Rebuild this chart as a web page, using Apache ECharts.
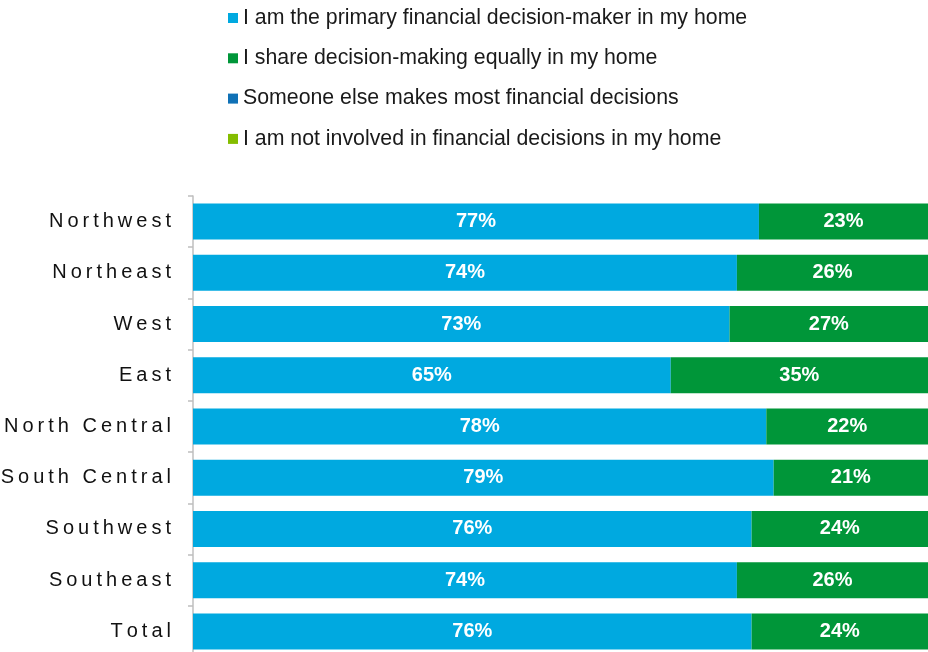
<!DOCTYPE html>
<html>
<head>
<meta charset="utf-8">
<script src="https://cdn.jsdelivr.net/npm/echarts@6/dist/echarts.min.js"></script>
<style>
  html, body { margin: 0; padding: 0; background: #fff; }
  #main { width: 928px; height: 652px; }
</style>
</head>
<body>
<div id="main"></div>
<script>
var regions = ['Northwest', 'Northeast', 'West', 'East', 'North Central', 'South Central', 'Southwest', 'Southeast', 'Total']
var seriesNames = [
  'I am the primary financial decision-maker in my home',
  'I share decision-making equally in my home',
  'Someone else makes most financial decisions',
  'I am not involved in financial decisions in my home'
]
var primary = [77, 74, 73, 65, 78, 79, 76, 74, 76]
var shared = [23, 26, 27, 35, 22, 21, 24, 26, 24]
var someoneElse = [0, 0, 0, 0, 0, 0, 0, 0, 0]
var notInvolved = [0, 0, 0, 0, 0, 0, 0, 0, 0]
var colors = ['#00a9e0', '#009639', '#0f71b6', '#84bd00']

var fontFam = 'Liberation Sans, Arial, sans-serif'

// spread letters out a bit, like the original labels (thin spaces)
function spaced(s) {
  return s.split('').join('\u2009')
}

function barSeries(name, values, color, showLabel) {
  return {
    name: name,
    type: 'bar',
    stack: 'all',
    barWidth: 36,
    data: values,
    itemStyle: { color: color },
    label: {
      show: showLabel,
      position: 'inside',
      formatter: '{c}%',
      color: '#fff',
      fontWeight: 'bold',
      fontSize: 20,
      fontFamily: fontFam
    }
  }
}

var chart = echarts.init(document.getElementById('main'))
chart.setOption({
  animation: false,
  color: colors,
  legend: {
    orient: 'vertical',
    left: 223,
    top: 2,
    itemWidth: 10,
    itemHeight: 10,
    itemGap: 18.3,
    icon: 'rect',
    textStyle: { fontSize: 21.3, lineHeight: 22, color: '#1a1a1a', fontFamily: fontFam },
    data: seriesNames
  },
  grid: { left: 193, right: 0, top: 196, bottom: -5, containLabel: false, outerBoundsMode: 'none' },
  xAxis: { type: 'value', min: 0, max: 100, show: false },
  yAxis: {
    type: 'category',
    inverse: true,
    data: regions,
    axisLine: { show: true, lineStyle: { color: '#bfbfbf', width: 1.5 } },
    axisTick: { show: true, length: 5, lineStyle: { color: '#bfbfbf', width: 1.5 } },
    axisLabel: {
      margin: 22,
      fontSize: 20,
      color: '#111',
      fontFamily: fontFam,
      formatter: spaced
    }
  },
  series: [
    barSeries(seriesNames[0], primary, colors[0], true),
    barSeries(seriesNames[1], shared, colors[1], true),
    barSeries(seriesNames[2], someoneElse, colors[2], false),
    barSeries(seriesNames[3], notInvolved, colors[3], false)
  ]
})
</script>
</body>
</html>
